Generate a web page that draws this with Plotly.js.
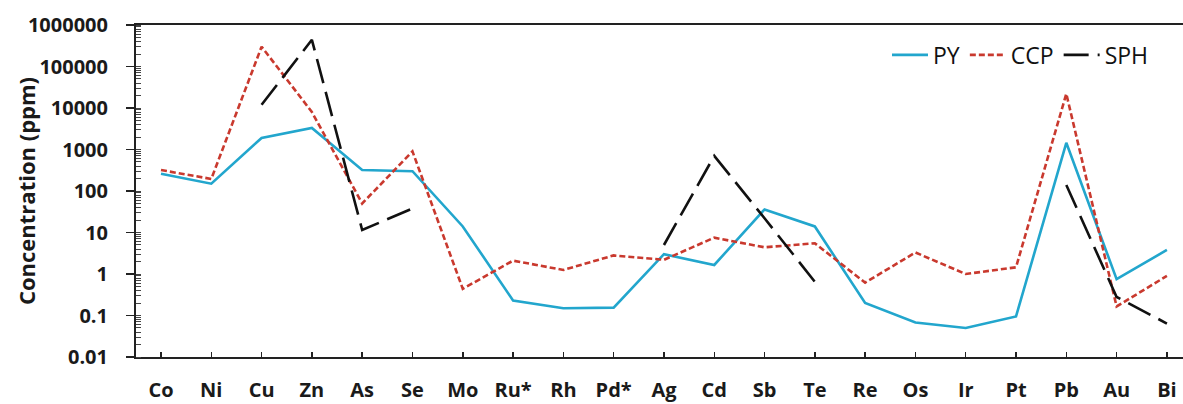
<!DOCTYPE html>
<html>
<head>
<meta charset="utf-8">
<script src="https://cdn.plot.ly/plotly-3.0.1.min.js"></script>
<style>html,body{margin:0;padding:0;background:#fff;}#chart{width:1183px;height:404px;}</style>
</head>
<body>
<div id="chart"></div>
<script>
var elements = ["Co","Ni","Cu","Zn","As","Se","Mo","Ru*","Rh","Pd*","Ag","Cd","Sb","Te","Re","Os","Ir","Pt","Pb","Au","Bi"];
var py  = [260, 150, 1900, 3300, 320, 300, 14, 0.23, 0.15, 0.155, 3.0, 1.65, 36, 14, 0.2, 0.068, 0.05, 0.095, 1450, 0.75, 3.8];
var ccp = [320, 195, 300000, 8000, 50, 900, 0.44, 2.1, 1.25, 2.8, 2.2, 7.5, 4.4, 5.5, 0.62, 3.3, 1.0, 1.45, 22000, 0.165, 0.9];
var sph = [null, null, 12000, 440000, 11.5, 38, null, null, null, null, 5, 700, 22, 0.65, null, null, null, null, 140, 0.28, 0.064];
var yTickVals = [0.01, 0.1, 1, 10, 100, 1000, 10000, 100000, 1000000];
var yTickText = ["0.01", "0.1", "1", "10", "100", "1000", "10000", "100000", "1000000"];
var yTitle = "Concentration (ppm)";

var traces = [
  {x: elements, y: py, name: "PY", type: "scatter", mode: "lines",
   line: {color: "#22a6cd", width: 2.6}},
  {x: elements, y: ccp, name: "CCP", type: "scatter", mode: "lines",
   line: {color: "#c9392e", width: 2.6, dash: "6px,3px"}},
  {x: elements, y: sph, name: "SPH", type: "scatter", mode: "lines", connectgaps: false,
   line: {color: "#111111", width: 2.6, dash: "25px,9px"}}
];

var layout = {
  width: 1183, height: 404,
  margin: {l: 136, r: 0, t: 25, b: 47},
  paper_bgcolor: "#ffffff", plot_bgcolor: "#ffffff",
  font: {family: "Open Sans, sans-serif", color: "#1a1a1a"},
  showlegend: true,
  legend: {orientation: "h", x: 0.9723, xanchor: "right", y: 0.91, yanchor: "middle",
           itemwidth: 36,
           font: {size: 23, family: "Open Sans, sans-serif", color: "#111"},
           bgcolor: "rgba(0,0,0,0)"},
  xaxis: {
    type: "category", range: [-0.497, 20.32],
    showline: true, linecolor: "#222", linewidth: 2, mirror: true,
    ticks: "inside", ticklen: 5, tickcolor: "#222", tickwidth: 1.5,
    showgrid: false, zeroline: false,
    tickfont: {size: 20, family: "Open Sans, sans-serif", weight: "bold", color: "#1a1a1a"},
    ticklabelstandoff: 14
  },
  yaxis: {
    type: "log", range: [-2, 6],
    tickvals: yTickVals, ticktext: yTickText,
    showline: true, linecolor: "#222", linewidth: 2, mirror: false,
    ticks: "outside", ticklen: 8, tickcolor: "#222", tickwidth: 1.5,
    minor: {dtick: "D1", ticks: "inside", ticklen: 5, tickcolor: "#444", tickwidth: 1, showgrid: false},
    showgrid: false, zeroline: false,
    tickfont: {size: 20, family: "Open Sans, sans-serif", weight: "bold", color: "#1a1a1a"},
    ticklabelstandoff: 14
  },
  annotations: [{
    text: yTitle, textangle: -90, showarrow: false,
    xref: "paper", yref: "paper", x: -0.105, y: 0.5, xanchor: "center", yanchor: "middle",
    font: {size: 22, family: "Open Sans, sans-serif", weight: "bold", color: "#1a1a1a"}
  }]
};

Plotly.newPlot("chart", traces, layout, {staticPlot: true, displayModeBar: false});
</script>
</body>
</html>
